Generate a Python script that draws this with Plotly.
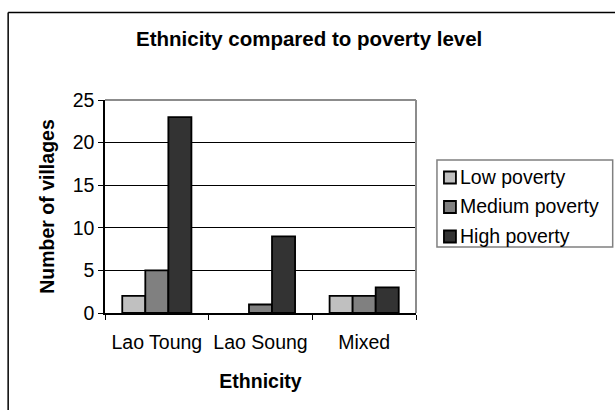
import plotly.graph_objects as go

# Villages per ethnic group, split by poverty level
categories = ["Lao Toung", "Lao Soung", "Mixed"]
low_poverty = [2, 0, 2]
medium_poverty = [5, 1, 2]
high_poverty = [23, 9, 3]

series = [
    ("Low poverty", low_poverty, "#C0C0C0"),
    ("Medium poverty", medium_poverty, "#808080"),
    ("High poverty", high_poverty, "#333333"),
]

W, H = 615, 410
L, R, T, B = 104.5, 199, 100, 97
pw, ph = W - L - R, H - T - B

def px_x(x):
    return (x - L) / pw

def px_y(y):
    return (H - B - y) / ph

FONT = "Liberation Sans, Arial, sans-serif"
TICK_SIZE = 19.5
TITLE_SIZE = 19.5

fig = go.Figure()
for name, vals, col in series:
    fig.add_trace(go.Bar(
        x=categories, y=vals, name=name, showlegend=False,
        marker=dict(color=col,
                    line=dict(color="black",
                              width=[1.8 if v > 0 else 0 for v in vals])),
    ))

fig.update_layout(
    width=W, height=H,
    margin=dict(l=L, r=R, t=T, b=B, pad=0),
    paper_bgcolor="white", plot_bgcolor="white",
    barmode="group", bargap=0.333, bargroupgap=0,
    font=dict(family=FONT, size=TICK_SIZE, color="black"),
    title=dict(text="<b>Ethnicity compared to poverty level</b>",
               x=px_x(309), xref="paper", xanchor="center",
               y=1 - 39 / H, yanchor="middle",
               font=dict(family=FONT, size=20.5, color="black")),
)

fig.update_xaxes(
    title=dict(text="<b>Ethnicity</b>", standoff=22,
               font=dict(family=FONT, size=TITLE_SIZE)),
    showline=True, linecolor="black", linewidth=1.5,
    ticks="outside", tickson="boundaries", ticklen=5, tickcolor="black",
    ticklabelstandoff=11,
    showgrid=False, tickfont=dict(family=FONT, size=TICK_SIZE),
)
fig.update_yaxes(
    title=dict(text="<b>Number of villages</b>", standoff=13,
               font=dict(family=FONT, size=TITLE_SIZE)),
    range=[0, 25], dtick=5, showline=True, linecolor="black", linewidth=1.5,
    ticks="outside", ticklen=5, tickcolor="black",
    showgrid=True, gridcolor="black", gridwidth=1, zeroline=False,
    tickfont=dict(family=FONT, size=TICK_SIZE),
)

# Gray frame on the top and right of the plot area
fig.add_shape(type="line", xref="paper", yref="paper", x0=0, x1=1, y0=1, y1=1,
              line=dict(color="#8C8C8C", width=2))
fig.add_shape(type="line", xref="paper", yref="paper", x0=1, x1=1, y0=0, y1=1,
              line=dict(color="#8C8C8C", width=2))
# Outer chart border (open at right and bottom)
fig.add_shape(type="line", xref="paper", yref="paper",
              x0=px_x(7.5), x1=px_x(W + 5), y0=px_y(12.5), y1=px_y(12.5),
              line=dict(color="black", width=1.5))
fig.add_shape(type="line", xref="paper", yref="paper",
              x0=px_x(7.5), x1=px_x(7.5), y0=px_y(12.5), y1=px_y(H + 5),
              line=dict(color="black", width=1.5))

# Legend box with swatches and labels
fig.add_shape(type="rect", xref="paper", yref="paper",
              x0=px_x(437), x1=px_x(613), y0=px_y(160), y1=px_y(247),
              line=dict(color="#808080", width=1.5), fillcolor="white")
entry_y = [177.5, 207, 236.5]
for (name, vals, col), ey in zip(series, entry_y):
    fig.add_shape(type="rect", xref="paper", yref="paper",
                  x0=px_x(444), x1=px_x(456), y0=px_y(ey - 6), y1=px_y(ey + 6),
                  line=dict(color="black", width=1.8), fillcolor=col)
    fig.add_annotation(text=name, xref="paper", yref="paper",
                       x=px_x(458.5), y=px_y(ey - 1), xanchor="left", yanchor="middle",
                       showarrow=False,
                       font=dict(family=FONT, size=19.5, color="black"))

fig.write_html("out.html")
